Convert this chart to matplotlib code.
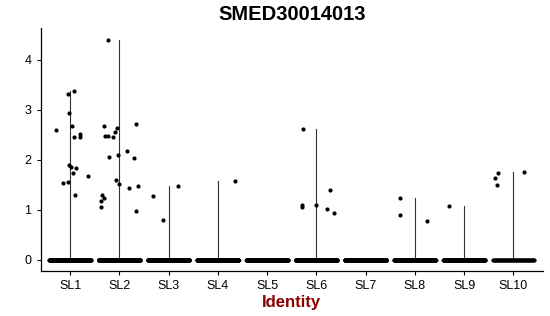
import numpy as np
import matplotlib.pyplot as plt

plt.rcParams['font.family'] = ['Liberation Sans', 'DejaVu Sans']

gene = "SMED30014013"
clusters = ["SL1", "SL2", "SL3", "SL4", "SL5", "SL6", "SL7", "SL8", "SL9", "SL10"]

# expression of the non-zero cells in each cluster
expr = [
    [3.32, 3.37, 2.94, 2.67, 2.45, 2.52, 2.45, 2.59, 1.90, 1.85, 1.83, 1.73, 1.68, 1.53, 1.55, 1.30],
    [4.40, 2.67, 2.47, 2.47, 2.45, 2.56, 2.63, 2.71, 2.05, 2.09, 2.17, 2.03, 1.59, 1.52, 1.44, 1.48,
     1.29, 1.23, 1.17, 1.05, 0.97],
    [1.27, 0.80, 1.48],
    [1.57],
    [],
    [2.61, 1.40, 1.09, 1.06, 1.09, 1.02, 0.93],
    [],
    [1.23, 0.89, 0.77],
    [1.07],
    [1.74, 1.64, 1.49, 1.75],
]
# horizontal jitter of those points (fraction of a category)
jitter = [
    [-0.04, 0.08, -0.02, 0.03, 0.08, 0.21, 0.21, -0.28, -0.03, 0.02, 0.12, 0.05, 0.36, -0.15, -0.04, 0.11],
    [-0.22, -0.32, -0.29, -0.24, -0.13, -0.09, -0.05, 0.34, -0.20, -0.03, 0.16, 0.30, -0.06, 0.00, 0.20,
     0.38, -0.36, -0.32, -0.37, -0.38, 0.33],
    [-0.31, -0.12, 0.20],
    [0.34],
    [],
    [-0.27, 0.28, -0.29, -0.30, 0.00, 0.21, 0.36],
    [],
    [-0.30, -0.30, 0.25],
    [-0.31],
    [-0.31, -0.37, -0.33, 0.21],
]
# number of cells with zero expression
n_zero = [400, 450, 420, 450, 500, 430, 480, 400, 420, 70]

fig = plt.figure(figsize=(5.5, 3.16), dpi=100)
ax = fig.add_axes([40.5 / 550, 45 / 316, 502.5 / 550, 242.5 / 316])

ymax = max(max(v) for v in expr if v)
for i, name in enumerate(clusters):
    xc = i + 1
    vals = expr[i]
    if vals:
        ax.plot([xc, xc], [0, max(vals)], color="#333333", lw=0.8, zorder=1)
    xs = xc + np.linspace(-0.42, 0.42, n_zero[i])
    ax.scatter(xs, np.zeros(n_zero[i]), s=8, color="black", lw=0, zorder=2)
    if vals:
        ax.scatter(xc + np.array(jitter[i]), vals, s=9, color="black", lw=0, zorder=3)

ax.set_xlim(0.4, 10.6)
ax.set_ylim(-0.05 * ymax, ymax * 1.05)
ax.set_xticks(range(1, 11))
ax.set_xticklabels(clusters, fontsize=9)
ax.set_yticks([0, 1, 2, 3, 4])
ax.tick_params(labelsize=9, length=3, color="black")
for s in ["top", "right"]:
    ax.spines[s].set_visible(False)
for s in ["left", "bottom"]:
    ax.spines[s].set_linewidth(0.9)

ax.set_title(gene, fontsize=14.5, fontweight="bold", pad=6)
ax.set_xlabel("Identity", fontsize=12, fontweight="bold", color="#8B0000", labelpad=2)

fig.savefig("out.png", dpi=100)
